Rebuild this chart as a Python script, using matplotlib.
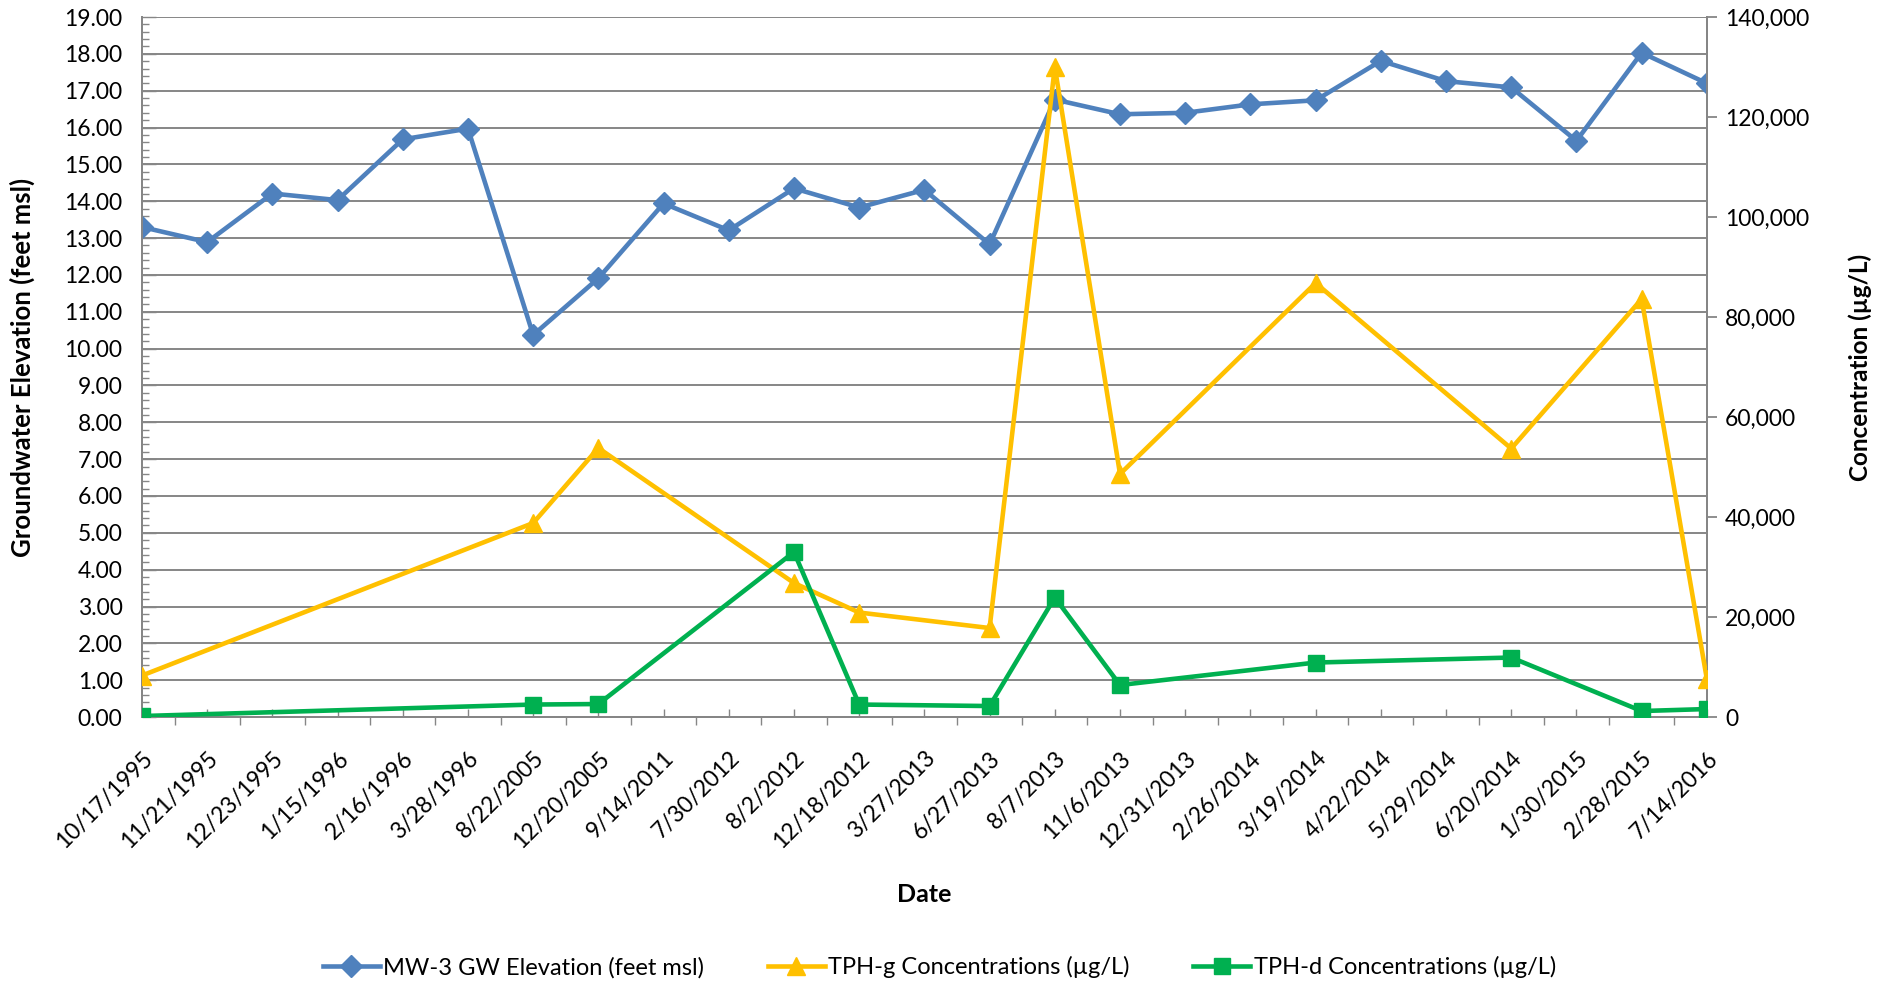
import matplotlib
matplotlib.use("Agg")
import matplotlib.pyplot as plt
import numpy as np
from matplotlib.ticker import FuncFormatter, MultipleLocator

plt.rcParams["font.family"] = ["Lato", "DejaVu Sans"]

DATES = ["10/17/1995", "11/21/1995", "12/23/1995", "1/15/1996", "2/16/1996",
         "3/28/1996", "8/22/2005", "12/20/2005", "9/14/2011", "7/30/2012",
         "8/2/2012", "12/18/2012", "3/27/2013", "6/27/2013", "8/7/2013",
         "11/6/2013", "12/31/2013", "2/26/2014", "3/19/2014", "4/22/2014",
         "5/29/2014", "6/20/2014", "1/30/2015", "2/28/2015", "7/14/2016"]

GW_ELEV = [13.30, 12.89, 14.21, 14.03, 15.68, 15.97, 10.37, 11.91, 13.94,
           13.21, 14.35, 13.83, 14.31, 12.83, 16.76, 16.36, 16.40, 16.63,
           16.74, 17.81, 17.26, 17.09, 15.64, 18.03, 17.20]

# samples with concentrations (index into DATES)
CONC_IDX = [0, 6, 7, 10, 11, 13, 14, 15, 18, 21, 23, 24]
TPH_G = [8300, 38800, 53800, 26800, 20900, 17800, 130000, 48600, 86800,
         53700, 83600, 7600]
TPH_D = [200, 2500, 2600, 33000, 2500, 2200, 23900, 6400, 10900, 11900,
         1200, 1600]

BLUE = "#4F81BD"
GOLD = "#FFC000"
GREEN = "#00B050"
GRID = "#868686"

fig = plt.figure(figsize=(18.9, 9.84), dpi=100)
ax = fig.add_axes([0.0751, 0.2713, 0.828, 0.7114])
ax2 = ax.twinx()

x = np.arange(len(DATES))
ax.plot(x, GW_ELEV, color=BLUE, lw=3.3, marker="D", ms=11, mec=BLUE,
        mfc=BLUE, label="MW-3 GW Elevation (feet msl)", zorder=3)
ax2.plot(x[CONC_IDX], TPH_G, color=GOLD, lw=3.3, marker="^", ms=13.5,
         mec=GOLD, mfc=GOLD, label="TPH-g Concentrations (\u00b5g/L)", zorder=3)
ax2.plot(x[CONC_IDX], TPH_D, color=GREEN, lw=3.3, marker="s", ms=11.5,
         mec=GREEN, mfc=GREEN, label="TPH-d Concentrations (\u00b5g/L)", zorder=4)

ax.set_xlim(0, len(DATES) - 1)
ax.set_ylim(0, 19)
ax2.set_ylim(0, 140000)

ax.set_yticks(np.arange(0, 19.5, 1))
ax.yaxis.set_minor_locator(MultipleLocator(0.2))
ax.yaxis.set_major_formatter(FuncFormatter(lambda v, p: f"{v:.2f}"))
ax.grid(axis="y", color=GRID, lw=1.4)
ax.set_axisbelow(True)

ax.set_xticks(x)
ax.set_xticklabels(DATES, rotation=45, ha="right", rotation_mode="anchor")
ax.set_xticks(x[:-1] + 0.5, minor=True)

ax2.set_yticks(np.arange(0, 140001, 20000))
ax2.yaxis.set_major_formatter(FuncFormatter(lambda v, p: f"{int(v):,}"))

for a in (ax, ax2):
    for s in a.spines.values():
        s.set_color(GRID)
        s.set_linewidth(1.4)
    a.spines["top"].set_visible(False)

FS = 16.5
ax.tick_params(axis="y", which="major", direction="in", length=10,
               color=GRID, width=1.0, labelsize=FS, pad=14)
ax.tick_params(axis="y", which="minor", direction="in", length=5,
               color=GRID, width=1.0)
ax.tick_params(axis="x", which="major", direction="in", length=6,
               color=GRID, width=1.0, labelsize=FS, pad=22)
ax.tick_params(axis="x", which="minor", direction="out", length=6,
               color=GRID, width=1.0)
ax2.tick_params(axis="y", which="major", direction="out", length=7,
                color=GRID, width=1.3, labelsize=FS, pad=6)

ax.set_ylabel("Groundwater Elevation (feet msl)", fontsize=18.5,
              fontweight="bold", va="center")
ax.yaxis.set_label_coords(-0.0767, 0.5)
ax2.set_ylabel("Concentration (\u00b5g/L)", fontsize=17.5,
               fontweight="bold", va="center", rotation=90)
ax2.yaxis.set_label_coords(1.0978, 0.5)
ax.set_xlabel("Date", fontsize=18, fontweight="bold", va="center")
ax.xaxis.set_label_coords(0.5, -0.253)

h1, l1 = ax.get_legend_handles_labels()
h2, l2 = ax2.get_legend_handles_labels()
fig.legend(h1 + h2, l1 + l2, loc="center", bbox_to_anchor=(0.497, 0.017),
           ncol=3, frameon=False, fontsize=17, columnspacing=2.7,
           handlelength=2.4, handletextpad=0.15)

fig.savefig("out.png", dpi=100)
